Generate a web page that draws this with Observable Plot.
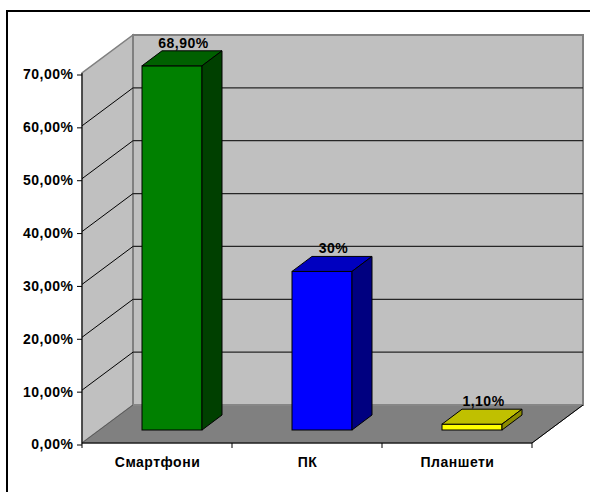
<!DOCTYPE html>
<html>
<head>
<meta charset="utf-8">
<script src="https://cdn.jsdelivr.net/npm/d3@7"></script>
<script src="https://cdn.jsdelivr.net/npm/@observablehq/plot@0.6"></script>
<style>
  body { margin: 0; background: #fff; }
</style>
</head>
<body>
<div id="chart"></div>
<script>
// Device share by type
const categories = ["Смартфони", "ПК", "Планшети"];
const shares = [68.9, 30, 1.1];
const shareLabels = ["68,90%", "30%", "1,10%"];

// Bar face colours: front, top (lit), side (shaded)
const frontColors = ["#008000", "#0000ff", "#ffff00"];
const topColors = ["#006000", "#0000c0", "#c0c000"];
const sideColors = ["#004000", "#000080", "#8c8c00"];

// Value axis
const yTicks = [0, 10, 20, 30, 40, 50, 60, 70];
const yTickLabels = ["0,00%", "10,00%", "20,00%", "30,00%", "40,00%", "50,00%", "60,00%", "70,00%"];

// Oblique 3D projection offsets (pixels: right, up)
const WALL_DEPTH = [51, 38];
const BAR_NEAR = [17, 13];
const BAR_DEPTH = [20, 15];
const BAR_INSET_LEFT = 43;
const BAR_INSET_RIGHT = 47;

const rows = categories.map((category, i) => ({
  category,
  share: shares[i],
  label: shareLabels[i],
  front: frontColors[i],
  top: topColors[i],
  side: sideColors[i]
}));

function poly(g, pts, fill, stroke, width) {
  g.append("polygon")
    .attr("points", pts.map(p => p.join(",")).join(" "))
    .attr("fill", fill)
    .attr("stroke", stroke)
    .attr("stroke-width", width)
    .attr("stroke-linejoin", "miter");
}

function line(g, x1, y1, x2, y2, stroke, width) {
  g.append("line")
    .attr("x1", x1).attr("y1", y1).attr("x2", x2).attr("y2", y2)
    .attr("stroke", stroke).attr("stroke-width", width);
}

function bandOf(x) {
  return typeof x.bandwidth === "function" ? x.bandwidth() : 0;
}

// Outer chart-area border
const border = (index, scales, values, dims) => {
  const g = d3.create("svg:g");
  g.append("rect")
    .attr("x", 7).attr("y", 11)
    .attr("width", dims.width).attr("height", dims.height)
    .attr("fill", "none").attr("stroke", "#000").attr("stroke-width", 2);
  return g.node();
};

// Side wall, back wall, gridlines and floor
const walls = (index, scales) => {
  const x = scales.x, y = scales.y;
  const bw = bandOf(x);
  const x0 = x(categories[0]);
  const x1 = x(categories[categories.length - 1]) + bw;
  const yb = y(0), yt = y(yTicks[yTicks.length - 1]);
  const [dx, dy] = WALL_DEPTH;
  const g = d3.create("svg:g");
  poly(g, [[x0, yb], [x0 + dx, yb - dy], [x0 + dx, yt - dy], [x0, yt]], "#c0c0c0", "#808080", 1.5);
  poly(g, [[x0 + dx, yb - dy], [x1 + dx, yb - dy], [x1 + dx, yt - dy], [x0 + dx, yt - dy]], "#c0c0c0", "#808080", 2);
  for (const t of yTicks.slice(1, -1)) {
    const yy = y(t);
    line(g, x0, yy, x0 + dx, yy - dy, "#000", 1);
    line(g, x0 + dx, yy - dy, x1 + dx, yy - dy, "#262626", 1.3);
  }
  poly(g, [[x0, yb], [x1, yb], [x1 + dx, yb - dy], [x0 + dx, yb - dy]], "#808080", "#5a5a5a", 1);
  line(g, x0 + dx, yb - dy, x1 + dx, yb - dy, "#a0a0a0", 1);
  line(g, x1, yb, x1 + dx, yb - dy, "#000", 1);
  line(g, x0, yb, x1, yb, "#000", 1);
  // value axis line along the front edge of the side wall
  line(g, x0, yb, x0, yt, "#000", 1);
  // category boundary ticks
  for (let i = 0; i <= categories.length; ++i) {
    const xx = x0 + i * bw;
    line(g, xx, yb, xx, yb + 5, "#000", 1);
  }
  return g.node();
};

// Top and side faces of each bar
const barFaces = (index, scales) => {
  const x = scales.x, y = scales.y;
  const bw = bandOf(x);
  const [nx, ny] = BAR_NEAR;
  const [dx, dy] = BAR_DEPTH;
  const g = d3.create("svg:g");
  for (const r of rows) {
    const xa = x(r.category) + BAR_INSET_LEFT + nx;
    const xb = x(r.category) + bw - BAR_INSET_RIGHT + nx;
    const yv = y(r.share) - ny;
    const y0 = y(0) - ny;
    poly(g, [[xa, yv], [xb, yv], [xb + dx, yv - dy], [xa + dx, yv - dy]], r.top, "#000", 1);
    poly(g, [[xb, yv], [xb + dx, yv - dy], [xb + dx, y0 - dy], [xb, y0]], r.side, "#000", 1);
  }
  return g.node();
};

const chart = Plot.plot({
  width: 590,
  height: 492,
  marginLeft: 82,
  marginRight: 58,
  marginTop: 73,
  marginBottom: 49,
  style: {
    fontFamily: "'Liberation Sans', Arial, sans-serif",
    fontSize: "14px",
    fontWeight: "bold",
    letterSpacing: "0.5px",
    color: "#000",
    background: "#fff",
    overflow: "visible"
  },
  x: { type: "band", domain: categories, padding: 0, label: null },
  y: { domain: [0, 70], label: null },
  marks: [
    border,
    walls,
    Plot.barY(rows, {
      x: "category",
      y: "share",
      fill: d => d.front,
      stroke: "#000",
      strokeWidth: 1,
      insetLeft: BAR_INSET_LEFT,
      insetRight: BAR_INSET_RIGHT,
      dx: BAR_NEAR[0],
      dy: -BAR_NEAR[1]
    }),
    barFaces,
    Plot.axisY({
      ticks: yTicks,
      tickFormat: d => yTickLabels[yTicks.indexOf(d)],
      tickSize: 5,
      tickPadding: 4,
      label: null,
      dy: 1.5
    }),
    Plot.axisX({ tickSize: 0, tickPadding: 14, label: null }),
    Plot.text(rows, {
      x: "category",
      y: "share",
      text: "label",
      dx: 26,
      dy: -36
    })
  ]
});

document.getElementById("chart").appendChild(chart);
</script>
</body>
</html>
